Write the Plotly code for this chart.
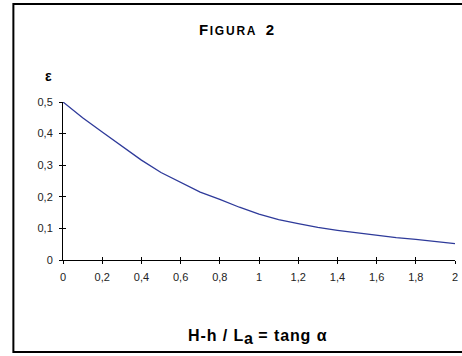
import plotly.graph_objects as go

# data
x_vals = [0.0, 0.1, 0.2, 0.3, 0.4, 0.5, 0.6, 0.7, 0.8, 0.9, 1.0,
          1.1, 1.2, 1.3, 1.4, 1.5, 1.6, 1.7, 1.8, 1.9, 2.0]
eps_vals = [0.500, 0.450, 0.405, 0.360, 0.316, 0.277, 0.245, 0.215, 0.192, 0.167, 0.145,
            0.128, 0.115, 0.103, 0.094, 0.086, 0.078, 0.071, 0.065, 0.058, 0.052]

title_text = ("<b><span style='letter-spacing:1.5px'>F</span>"
              "<span style='font-size:12px;letter-spacing:1.8px'>IGURA</span>"
              "\u00a0\u00a02</b>")
y_label = "<b>ε</b>"
x_label = ("<b><span style='letter-spacing:0.9px'>H-h / L</span>"
           "<sub><span style='font-size:16px'>a</span></sub>"
           "<span style='letter-spacing:0.9px'> = tang α</span></b>")

FONT = "Liberation Sans, Arial, sans-serif"

W, H = 462, 356
L, R, T, B = 63, 4, 102, 96
pw = W - L - R
ph = H - T - B


def px(xp):
    return (xp - L) / pw


def py(yp):
    return (H - B - yp) / ph


fig = go.Figure()
fig.add_trace(go.Scatter(x=x_vals, y=eps_vals, mode="lines",
                         line=dict(color="#2E3A9A", width=1.3),
                         hoverinfo="skip", showlegend=False))
# invisible trace for the overlay axes (inner half of crossing ticks)
fig.add_trace(go.Scatter(x=[0, 2], y=[0, 0.5], xaxis="x2", yaxis="y2",
                         mode="markers", marker=dict(opacity=0),
                         hoverinfo="skip", showlegend=False))

axis_common = dict(showgrid=False, zeroline=False, tickcolor="black",
                   tickwidth=1, ticklen=3)

fig.update_layout(
    width=W, height=H,
    margin=dict(l=L, r=R, t=T, b=B, pad=0),
    paper_bgcolor="white", plot_bgcolor="white",
    separators=",.",
    font=dict(family=FONT, color="#222222"),
    xaxis=dict(range=[0, 2], tick0=0, dtick=0.2, ticks="outside",
               showline=True, linecolor="black", linewidth=1,
               tickfont=dict(size=11, family=FONT, color="#222222"),
               ticklabelstandoff=4, **axis_common),
    yaxis=dict(range=[0, 0.5], tick0=0, dtick=0.1, ticks="outside",
               showline=True, linecolor="black", linewidth=1,
               tickfont=dict(size=11, family=FONT, color="#222222"),
               ticklabelstandoff=4, **axis_common),
    xaxis2=dict(range=[0, 2], tick0=0, dtick=0.2, ticks="inside",
                overlaying="x", showticklabels=False, showline=False,
                **axis_common),
    yaxis2=dict(range=[0, 0.5], tick0=0, dtick=0.1, ticks="inside",
                overlaying="y", showticklabels=False, showline=False,
                **axis_common),
    shapes=[dict(type="rect", xref="paper", yref="paper",
                 x0=px(13), x1=px(475), y0=py(352), y1=py(4),
                 line=dict(color="black", width=2), fillcolor="rgba(0,0,0,0)")],
    annotations=[
        dict(text=title_text, xref="paper", yref="paper", x=px(237.5), y=py(29),
             xanchor="center", yanchor="middle", showarrow=False,
             font=dict(size=15, family=FONT, color="black")),
        dict(text=y_label, xref="paper", yref="paper", x=px(48), y=py(76),
             xanchor="center", yanchor="middle", showarrow=False,
             font=dict(size=14, family=FONT, color="black")),
        dict(text=x_label, xref="paper", yref="paper", x=px(259), y=py(337),
             xanchor="center", yanchor="middle", showarrow=False,
             font=dict(size=16, family=FONT, color="black")),
    ],
)

fig.write_html("out.html", config={"displayModeBar": False},
               post_script="document.body.style.margin='0px';")
